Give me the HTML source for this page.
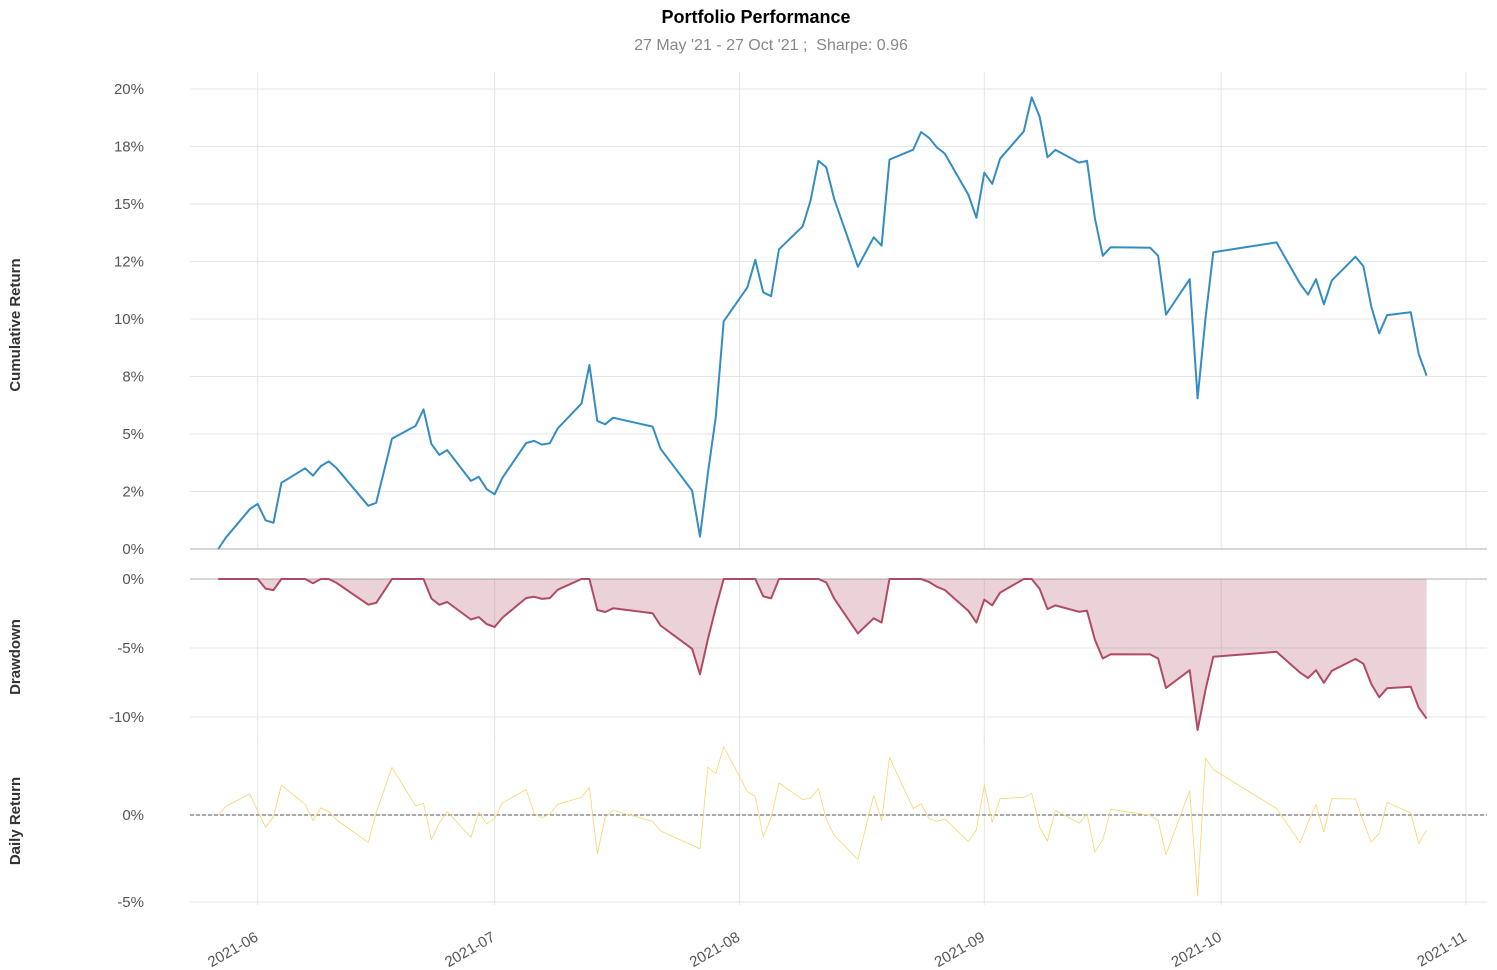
<!DOCTYPE html>
<html><head><meta charset="utf-8">
<style>
html,body{margin:0;padding:0;background:#fff;}
svg{display:block;font-family:"Liberation Sans",Arial,sans-serif;}
</style></head>
<body>
<svg id="chart" width="1497" height="970" viewBox="0 0 1497 970">
<text x="756" y="23" text-anchor="middle" font-size="18" font-weight="bold" fill="#000">Portfolio Performance</text>
<text x="771" y="50" text-anchor="middle" font-size="16" fill="#888" xml:space="preserve">27 May '21 - 27 Oct '21 ;  Sharpe: 0.96</text>
<g id="grid"></g>
<g id="marks"></g>
<g id="labels"></g>
<text transform="translate(20,325) rotate(-90)" text-anchor="middle" font-size="15" font-weight="bold" fill="#333">Cumulative Return</text>
<text transform="translate(20,657) rotate(-90)" text-anchor="middle" font-size="15" font-weight="bold" fill="#333">Drawdown</text>
<text transform="translate(20,821) rotate(-90)" text-anchor="middle" font-size="15" font-weight="bold" fill="#333">Daily Return</text>
</svg>
<script>
const dayOffsets = [0,1,4,5,6,7,8,11,12,13,14,15,19,20,22,25,26,27,28,29,32,33,34,35,36,39,40,41,42,43,46,47,48,49,50,55,56,60,61,62,63,64,67,68,69,70,71,74,75,76,77,78,81,83,84,85,88,89,90,91,92,95,96,97,98,99,102,103,104,105,106,109,110,111,112,113,118,119,120,123,124,125,126,134,137,138,139,140,141,144,145,146,147,148,151,152,153];
const cumReturn = [0,0.51,1.73,1.96,1.25,1.14,2.88,3.51,3.19,3.61,3.81,3.51,1.88,2.01,4.80,5.35,6.07,4.57,4.09,4.30,2.96,3.14,2.60,2.38,3.10,4.61,4.70,4.54,4.60,5.25,6.32,8.00,5.57,5.42,5.71,5.32,4.36,2.54,0.54,3.30,5.75,9.90,11.38,12.57,11.16,10.99,13.03,14.03,15.14,16.88,16.59,15.22,12.27,13.55,13.19,16.93,17.36,18.13,17.88,17.46,17.19,15.39,14.40,16.36,15.88,16.97,18.16,19.64,18.80,17.03,17.35,16.80,16.88,14.38,12.75,13.12,13.10,12.75,10.19,11.73,6.55,10.03,12.90,13.33,11.52,11.06,11.73,10.64,11.68,12.71,12.29,10.54,9.38,10.17,10.29,8.48,7.54];
const xTickDays = [5,35,66,97,127,158];
const xTickLabels = ["2021-06","2021-07","2021-08","2021-09","2021-10","2021-11"];
const cumTicks = [0,2.5,5,7.5,10,12.5,15,17.5,20];
const cumTickLabels = ["0%","2%","5%","8%","10%","12%","15%","18%","20%"];
const ddTicks = [0,-5,-10];
const ddTickLabels = ["0%","-5%","-10%"];
const drTicks = [0,-5];
const drTickLabels = ["0%","-5%"];

const NS="http://www.w3.org/2000/svg";
const x = d => 218.2 + d*7.898;
const yCum = v => 549 - v*23;
function yDraw(v){ return 579 - v*13.8; }
function yDaily(v){ return 815 - v*17.4; }
const L=190,R=1487;
function el(tag,attrs,parent){const e=document.createElementNS(NS,tag);for(const k in attrs)e.setAttribute(k,attrs[k]);parent.appendChild(e);return e;}
const grid=document.getElementById('grid'),marks=document.getElementById('marks'),labels=document.getElementById('labels');

const drawdown=[];let peak=-1e9;
cumReturn.forEach(c=>{peak=Math.max(peak,c);drawdown.push(((1+c/100)/(1+peak/100)-1)*100);});
const dailyRet=cumReturn.map((c,i)=>i===0?0:((1+c/100)/(1+cumReturn[i-1]/100)-1)*100);

const panels=[[72,549],[579,740],[735,905]];
xTickDays.forEach((d,i)=>{
  panels.forEach(p=>{
    const g=el('line',{x1:x(d),x2:x(d),y1:p[0],y2:p[1],stroke:'#e5e5e5','stroke-width':1},grid);
    
    
  });
  const t=el('text',{transform:`translate(${x(d)-6},${927}) rotate(-30)`,'text-anchor':'end','font-size':15,fill:'#555',dy:'1em'},labels);
  t.textContent=xTickLabels[i];
  
  
});
function yAxis(ticks,lbls,fy,name){
  ticks.forEach((v,i)=>{
    const g=el('line',{x1:L,x2:R,y1:fy(v),y2:fy(v),stroke:'#e5e5e5','stroke-width':1},grid);
    
    
    const t=el('text',{x:144,y:fy(v)+5,'text-anchor':'end','font-size':15,fill:'#555'},labels);
    t.textContent=lbls[i];
    
    
  });
}
yAxis(cumTicks,cumTickLabels,yCum,'cumulative-y');
yAxis(ddTicks,ddTickLabels,yDraw,'drawdown-y');
yAxis(drTicks,drTickLabels,yDaily,'daily-y');

let b=el('line',{x1:L,x2:R,y1:yCum(0),y2:yCum(0),stroke:'#c8c8c8','stroke-width':1.5},marks);


b=el('line',{x1:L,x2:R,y1:yDraw(0),y2:yDraw(0),stroke:'#c8c8c8','stroke-width':1.5},marks);


b=el('line',{x1:L,x2:R,y1:yDaily(0),y2:yDaily(0),stroke:'#777','stroke-width':1.2,'stroke-dasharray':'4,2'},marks);



const cumPts=dayOffsets.map((d,i)=>x(d).toFixed(1)+','+yCum(cumReturn[i]).toFixed(1)).join(' ');
let p=el('polyline',{points:cumPts,fill:'none',stroke:'#348dc1','stroke-width':2,'stroke-linejoin':'round'},marks);



const ddPts=dayOffsets.map((d,i)=>x(d).toFixed(1)+','+yDraw(drawdown[i]).toFixed(1));
const area=`M${x(dayOffsets[0])},${yDraw(0)} L`+ddPts.join(' L')+` L${x(dayOffsets[dayOffsets.length-1])},${yDraw(0)} Z`;
p=el('path',{d:area,fill:'#af4b64','fill-opacity':0.25,stroke:'none'},marks);


p=el('polyline',{points:ddPts.join(' '),fill:'none',stroke:'#af4b64','stroke-width':2,'stroke-linejoin':'round'},marks);



const drPts=dayOffsets.map((d,i)=>x(d).toFixed(1)+','+yDaily(dailyRet[i]).toFixed(1)).join(' ');
p=el('polyline',{points:drPts,fill:'none',stroke:'#fcd46a','stroke-width':0.8,'stroke-linejoin':'round'},marks);


</script>
</body></html>
